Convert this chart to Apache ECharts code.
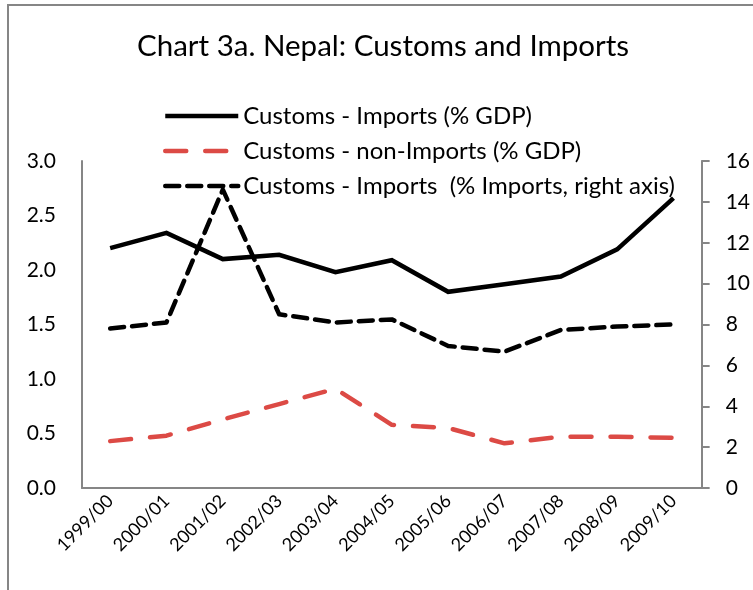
<!DOCTYPE html>
<html>
<head>
<meta charset="utf-8">
<script src="https://cdn.jsdelivr.net/npm/echarts@6/dist/echarts.min.js"></script>
<style>
  html, body { margin: 0; padding: 0; background: #fff; }
  #chart { width: 753px; height: 590px; }
</style>
</head>
<body>
<div id="chart"></div>
<script>
// Fiscal years
const years = ['1999/00', '2000/01', '2001/02', '2002/03', '2003/04', '2004/05',
               '2005/06', '2006/07', '2007/08', '2008/09', '2009/10'];

// Customs revenue on imports, % of GDP (left axis)
const importsGdp = [2.20, 2.34, 2.10, 2.14, 1.98, 2.09, 1.80, 1.87, 1.94, 2.19, 2.66];

// Customs revenue not on imports, % of GDP (left axis)
const nonImportsGdp = [0.43, 0.48, 0.63, 0.77, 0.91, 0.58, 0.55, 0.41, 0.47, 0.47, 0.46];

// Customs revenue on imports, % of imports (right axis)
const importsShare = [7.8, 8.1, 14.6, 8.5, 8.1, 8.25, 6.95, 6.67, 7.73, 7.9, 8.0];

// Tick labels
const leftTicks = ['0.0', '0.5', '1.0', '1.5', '2.0', '2.5', '3.0'];

const FONT = 'Lato';
const AXIS_GREY = '#868686';
const NO_MARKER = 'rgba(0,0,0,0)';

const chart = echarts.init(document.getElementById('chart'), null, { renderer: 'canvas' });

chart.setOption({
  backgroundColor: '#fff',
  animation: false,
  textStyle: { fontFamily: FONT, color: '#000' },
  title: {
    text: 'Chart 3a. Nepal: Customs and Imports',
    left: 132,
    top: 26,
    textStyle: { fontFamily: FONT, fontSize: 29.5, fontWeight: 'normal', color: '#000' }
  },
  legend: {
    orient: 'vertical',
    left: 158,
    top: 99,
    itemWidth: 73,
    itemHeight: 24,
    itemGap: 11,
    itemStyle: { opacity: 0 },
    lineStyle: { width: 4.5 },
    textStyle: { fontFamily: FONT, fontSize: 24, lineHeight: 24, color: '#000' },
    data: [
      'Customs - Imports (% GDP)',
      'Customs - non-Imports (% GDP)',
      'Customs - Imports  (% Imports, right axis)'
    ]
  },
  graphic: [
    { type: 'line', shape: { x1: 8, y1: 4, x2: 8, y2: 590 }, style: { stroke: AXIS_GREY, lineWidth: 2 } },
    { type: 'line', shape: { x1: 7, y1: 5, x2: 753, y2: 5 }, style: { stroke: AXIS_GREY, lineWidth: 2 } }
  ],
  grid: { left: 82, right: 50, top: 161, bottom: 102, containLabel: false },
  xAxis: {
    type: 'category',
    data: years,
    boundaryGap: true,
    axisLine: { show: true, lineStyle: { color: AXIS_GREY, width: 2 } },
    axisTick: { show: false },
    axisLabel: {
      rotate: 45,
      fontFamily: FONT,
      fontSize: 18,
      color: '#000',
      margin: 10
    },
    splitLine: { show: false }
  },
  yAxis: [
    {
      type: 'value',
      min: 0,
      max: 3,
      interval: 0.5,
      position: 'left',
      axisLine: { show: true, lineStyle: { color: AXIS_GREY, width: 2 } },
      axisTick: { show: false },
      splitLine: { show: false },
      axisLabel: {
        fontFamily: FONT,
        fontSize: 21,
        color: '#000',
        margin: 26,
        formatter: v => leftTicks[Math.round(v / 0.5)]
      }
    },
    {
      type: 'value',
      min: 0,
      max: 16,
      interval: 2,
      position: 'right',
      axisLine: { show: true, lineStyle: { color: AXIS_GREY, width: 2 } },
      axisTick: { show: true, inside: false, length: 8, lineStyle: { color: AXIS_GREY, width: 2 } },
      splitLine: { show: false },
      axisLabel: { fontFamily: FONT, fontSize: 21, color: '#000', margin: 24 }
    }
  ],
  series: [
    {
      name: 'Customs - Imports (% GDP)',
      type: 'line',
      yAxisIndex: 0,
      data: importsGdp,
      symbol: 'none',
      lineStyle: { color: '#000', width: 4.5, type: 'solid', cap: 'butt', join: 'miter' },
      itemStyle: { color: NO_MARKER }
    },
    {
      name: 'Customs - non-Imports (% GDP)',
      type: 'line',
      yAxisIndex: 0,
      data: nonImportsGdp,
      symbol: 'none',
      lineStyle: { color: '#dc4a45', width: 4.5, type: [21, 19], cap: 'round', join: 'round' },
      itemStyle: { color: NO_MARKER }
    },
    {
      name: 'Customs - Imports  (% Imports, right axis)',
      type: 'line',
      yAxisIndex: 1,
      data: importsShare,
      symbol: 'none',
      lineStyle: { color: '#000', width: 4.5, type: [14, 8], cap: 'round', join: 'round' },
      itemStyle: { color: NO_MARKER }
    }
  ]
});
</script>
</body>
</html>
